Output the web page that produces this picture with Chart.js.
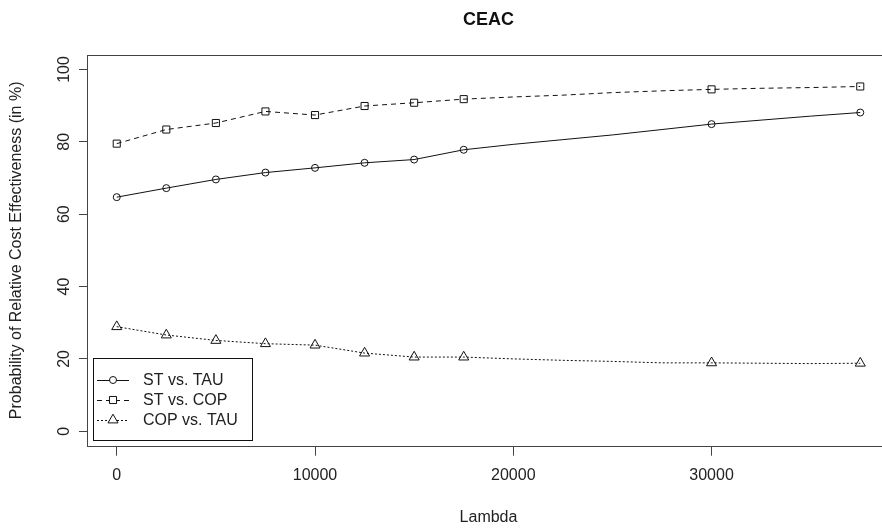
<!DOCTYPE html>
<html>
<head>
<meta charset="utf-8">
<title>CEAC</title>
<script src="https://cdn.jsdelivr.net/npm/chart.js@4"></script>
<style>
  html, body { margin: 0; padding: 0; background: #fff; overflow: hidden; }
  #wrap { width: 882px; height: 529px; overflow: hidden; }
  canvas { display: block; }
</style>
</head>
<body>
<div id="wrap"><canvas id="ceac" width="910" height="529"></canvas></div>
<script>
// Willingness-to-pay values (lambda) and probability of relative cost effectiveness (%)
const lambda = [0, 2500, 5000, 7500, 10000, 12500, 15000, 17500,
                20000, 22500, 25000, 27500, 30000, 32500, 35000, 37500];
const stVsTau  = [64.7, 67.2, 69.6, 71.5, 72.8, 74.2, 75.1, 77.8,
                  79.3, 80.6, 81.9, 83.4, 84.9, 86.0, 87.1, 88.1];
const stVsCop  = [79.5, 83.4, 85.2, 88.4, 87.4, 89.9, 90.8, 91.8,
                  92.4, 92.9, 93.6, 94.1, 94.5, 94.8, 95.0, 95.3];
const copVsTau = [28.9, 26.6, 25.1, 24.2, 23.8, 21.6, 20.5, 20.5,
                  20.0, 19.6, 19.3, 18.9, 18.9, 18.8, 18.7, 18.8];
// lambda values that carry a plotting symbol
const markedLambda = [0, 2500, 5000, 7500, 10000, 12500, 15000, 17500, 30000, 37500];
const seriesNames = ['ST vs. TAU', 'ST vs. COP', 'COP vs. TAU'];
const xTicks = [0, 10000, 20000, 30000];
const yTicks = [0, 20, 40, 60, 80, 100];

const INK = '#222';
const FONT = "'Liberation Sans', Arial, sans-serif";

function series(values) {
  return lambda.map((l, i) => ({ x: l, y: values[i] }));
}
function radii(r) {
  return lambda.map(l => markedLambda.includes(l) ? r : 0);
}

function makeDataset(label, values, style, r, dash) {
  return {
    label,
    data: series(values),
    borderColor: '#111',
    borderWidth: 1,
    borderDash: dash,
    backgroundColor: 'rgba(0,0,0,0)',
    pointStyle: style,
    pointRadius: radii(r),
    pointHoverRadius: radii(r),
    pointBorderColor: '#111',
    pointBorderWidth: 1,
    pointBackgroundColor: 'rgba(0,0,0,0)',
    tension: 0,
    fill: false
  };
}

// Frame around the plotting region
const frame = {
  id: 'frame',
  afterDraw(chart) {
    const { ctx, chartArea: a } = chart;
    ctx.save();
    ctx.strokeStyle = '#444';
    ctx.lineWidth = 1;
    ctx.strokeRect(Math.round(a.left) + 0.5, Math.round(a.top) + 0.5,
                   Math.round(a.right - a.left), Math.round(a.bottom - a.top));
    ctx.restore();
  }
};

// Boxed legend in the lower-left corner of the plot
const boxLegend = {
  id: 'boxLegend',
  afterDraw(chart) {
    const { ctx } = chart;
    const a = chart.chartArea;
    const left = a.left + 6, top = 358, width = 159, rowH = 20;
    const height = 82;
    ctx.save();
    ctx.fillStyle = '#fff';
    ctx.fillRect(left, top, width, height);
    ctx.strokeStyle = '#111';
    ctx.lineWidth = 1;
    ctx.strokeRect(left + 0.5, top + 0.5, width, height);
    chart.data.datasets.forEach((ds, i) => {
      const y = top + 22 + i * rowH;
      ctx.save();
      ctx.strokeStyle = ds.borderColor;
      ctx.lineWidth = 1;
      ctx.setLineDash(ds.borderDash || []);
      ctx.beginPath();
      ctx.moveTo(left + 4, y + 0.5);
      ctx.lineTo(left + 36, y + 0.5);
      ctx.stroke();
      ctx.restore();
      const r = Math.max(...ds.pointRadius);
      ctx.strokeStyle = '#111';
      ctx.fillStyle = '#fff';
      Chart.helpers.drawPoint(ctx, { pointStyle: ds.pointStyle, radius: r, rotation: 0, borderWidth: 1 }, left + 20, y);
      ctx.fillStyle = INK;
      ctx.font = '16px ' + FONT;
      ctx.textBaseline = 'middle';
      ctx.textAlign = 'left';
      ctx.fillText(ds.label, left + 50, y + 1);
    });
    ctx.restore();
  }
};

new Chart(document.getElementById('ceac'), {
  type: 'line',
  data: {
    datasets: [
      makeDataset(seriesNames[0], stVsTau, 'circle', 3.5, []),
      makeDataset(seriesNames[1], stVsCop, 'rect', 5, [5, 4]),
      makeDataset(seriesNames[2], copVsTau, 'triangle', 5.8, [2, 2])
    ]
  },
  options: {
    responsive: false,
    animation: false,
    layout: { padding: { left: 0, right: 20, top: 0, bottom: 0 } },
    plugins: {
      legend: { display: false },
      tooltip: { enabled: false },
      title: {
        display: true,
        text: 'CEAC',
        fullSize: false,
        color: '#111',
        font: { family: FONT, size: 18, weight: 'bold' },
        padding: { top: 9, bottom: 24.4 }
      }
    },
    scales: {
      x: {
        type: 'linear',
        min: -1500,
        max: 39000,
        afterFit(scale) { scale.height = 83.3; },
        afterBuildTicks(scale) { scale.ticks = xTicks.map(v => ({ value: v })); },
        border: { display: false },
        grid: { drawOnChartArea: false, drawTicks: true, tickLength: 10, tickColor: '#444', lineWidth: 1 },
        ticks: {
          color: INK,
          font: { family: FONT, size: 16 },
          padding: 10.7,
          maxRotation: 0,
          callback: v => String(v)
        },
        title: {
          display: true,
          text: 'Lambda',
          color: INK,
          font: { family: FONT, size: 16 },
          padding: { top: 0, bottom: 1.4 }
        }
      },
      y: {
        type: 'linear',
        min: -4,
        max: 104,
        afterFit(scale) { scale.width = 87; },
        afterBuildTicks(scale) { scale.ticks = yTicks.map(v => ({ value: v })); },
        border: { display: false },
        grid: { drawOnChartArea: false, drawTicks: true, tickLength: 8, tickColor: '#444', lineWidth: 1 },
        ticks: {
          color: INK,
          font: { family: FONT, size: 16 },
          minRotation: 90,
          maxRotation: 90,
          crossAlign: 'center',
          padding: 1,
          callback: v => String(v)
        },
        title: {
          display: true,
          text: 'Probability of Relative Cost Effectiveness (in %)',
          color: INK,
          font: { family: FONT, size: 16 },
          padding: { top: 7.4, bottom: 0 }
        }
      }
    }
  },
  plugins: [frame, boxLegend]
});
</script>
</body>
</html>
